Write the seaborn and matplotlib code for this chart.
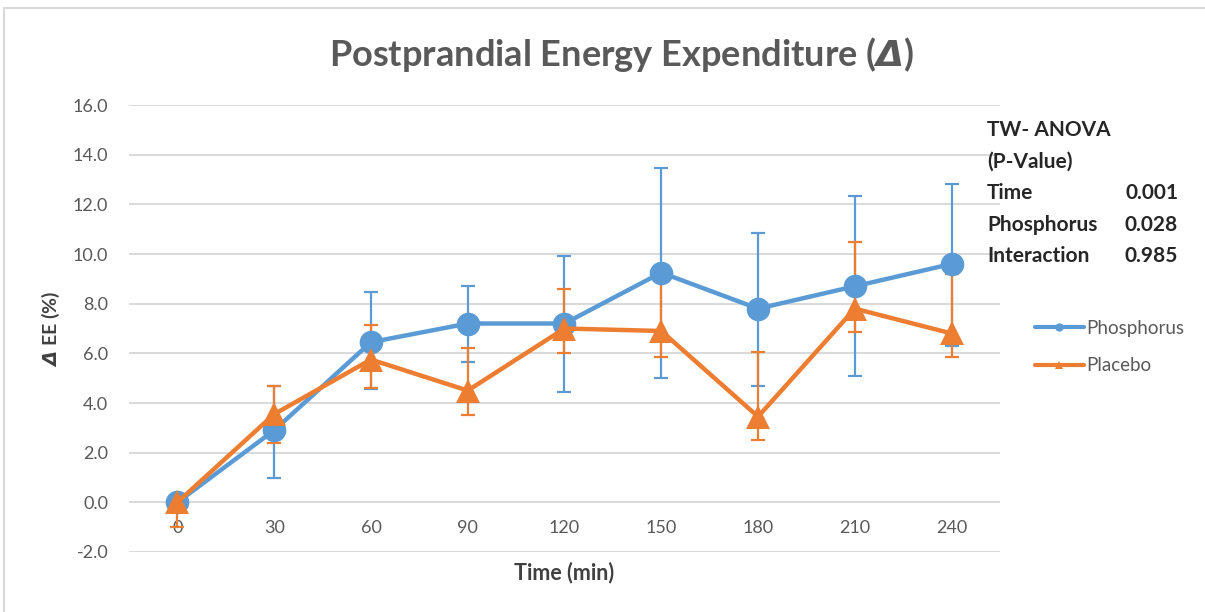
import numpy as np
import pandas as pd
import matplotlib
matplotlib.use("Agg")
import matplotlib.pyplot as plt
from matplotlib.patches import Rectangle
import seaborn as sns

# data
time_min = [0, 30, 60, 90, 120, 150, 180, 210, 240]
phosphorus = [0.0, 2.9, 6.45, 7.2, 7.2, 9.25, 7.8, 8.7, 9.6]
phos_low = [0.0, 1.0, 4.55, 5.65, 4.45, 5.0, 4.7, 5.1, 6.3]
phos_high = [0.0, 4.7, 8.45, 8.7, 9.9, 13.45, 10.85, 12.35, 12.8]
placebo = [0.0, 3.55, 5.75, 4.5, 7.0, 6.9, 3.45, 7.8, 6.8]
plac_low = [-1.0, 2.4, 4.6, 3.5, 6.0, 5.85, 2.5, 6.85, 5.85]
plac_high = [0.0, 4.7, 7.15, 6.2, 8.6, 9.0, 6.05, 10.5, 9.2]

anova_labels = ["Time", "Phosphorus", "Interaction"]
anova_pvals = ["0.001", "0.028", "0.985"]

BLUE = "#5B9BD5"
ORANGE = "#ED7D31"
GREY = "#595959"

sns.set_theme(style="white")
plt.rcParams["font.family"] = ["Lato", "DejaVu Sans"]
plt.rcParams["mathtext.fontset"] = "dejavusans"

df = pd.DataFrame({
    "time": time_min * 2,
    "value": phosphorus + placebo,
    "group": ["Phosphorus"] * len(time_min) + ["Placebo"] * len(time_min),
})

fig = plt.figure(figsize=(12.05, 6.12), dpi=100)
ax = fig.add_axes([129 / 1205, 1 - 552 / 612, 871 / 1205, 447 / 612])

# error bars underneath the lines/markers
for mean, lo, hi, col in [(phosphorus, phos_low, phos_high, BLUE),
                          (placebo, plac_low, plac_high, ORANGE)]:
    m = np.array(mean)
    yerr = [m - np.array(lo), np.array(hi) - m]
    ax.errorbar(time_min, m, yerr=yerr, fmt="none", ecolor=col,
                elinewidth=1.6, capsize=5, capthick=1.6, zorder=2)

sns.lineplot(data=df, x="time", y="value", hue="group", style="group",
             palette={"Phosphorus": BLUE, "Placebo": ORANGE},
             markers={"Phosphorus": "o", "Placebo": "^"}, dashes=False,
             markersize=17, markeredgewidth=0, linewidth=3.2,
             ax=ax, zorder=3)

ax.set_xlim(-15, 255)
ax.set_ylim(-2, 16)
ax.set_yticks(np.arange(-2, 17, 2))
ax.yaxis.set_major_formatter(matplotlib.ticker.FormatStrFormatter("%.1f"))
ax.set_xticks(time_min)
ax.grid(axis="y", color="#d9d9d9", linewidth=1.4)
ax.set_axisbelow(True)
for s in ["top", "right", "left"]:
    ax.spines[s].set_visible(False)
ax.spines["bottom"].set_position(("data", 0))
ax.spines["bottom"].set_visible(False)
ax.tick_params(axis="both", length=0, labelsize=13, labelcolor=GREY)
ax.tick_params(axis="y", pad=15)
ax.tick_params(axis="x", pad=13)

ax.set_xlabel("Time (min)", fontsize=15.5, fontweight="bold", color="#404040")
ax.xaxis.set_label_coords((564 - 129) / 871, -0.022)
ax.set_ylabel(r"$\mathbfit{\Delta}$ EE (%)", fontsize=14, fontweight="bold", color="#404040")
ax.yaxis.set_label_coords((62 - 129) / 871, (552 - 329) / 447)

fig.text(622 / 1205, 1 - 55 / 612, r"Postprandial Energy Expenditure ($\mathbfit{\Delta}$)",
         ha="center", va="center", fontsize=26, fontweight="bold", color=GREY)

# ANOVA annotation
lines_y = [130, 162, 193, 225, 256]
fig.text(987 / 1205, 1 - lines_y[0] / 612, "TW- ANOVA", fontsize=15,
         fontweight="bold", color="#262626", va="center")
fig.text(987 / 1205, 1 - lines_y[1] / 612, "(P-Value)", fontsize=15,
         fontweight="bold", color="#262626", va="center")
for lab, pv, yy in zip(anova_labels, anova_pvals, lines_y[2:]):
    fig.text(987 / 1205, 1 - yy / 612, lab, fontsize=15, fontweight="bold",
             color="#262626", va="center")
    fig.text(1178 / 1205, 1 - yy / 612, pv, fontsize=15, fontweight="bold",
             color="#262626", va="center", ha="right")

sns.move_legend(ax, "center left", bbox_to_anchor=(1035 / 1205, 1 - 347 / 612),
                bbox_transform=fig.transFigure, frameon=False, title=None,
                fontsize=13.5, handlelength=2.6, handletextpad=0.15,
                labelspacing=1.1, labelcolor=GREY, borderpad=0, borderaxespad=0)
for h in ax.get_legend().legend_handles:
    h.set_markersize(6)
    h.set_linewidth(3)

fig.patches.append(Rectangle((4 / 1205, -0.05), 1.2, 1 - 8 / 612 + 0.05,
                             transform=fig.transFigure, fill=False,
                             edgecolor="#d9d9d9", linewidth=1.5))

fig.savefig("out.png", dpi=100)
